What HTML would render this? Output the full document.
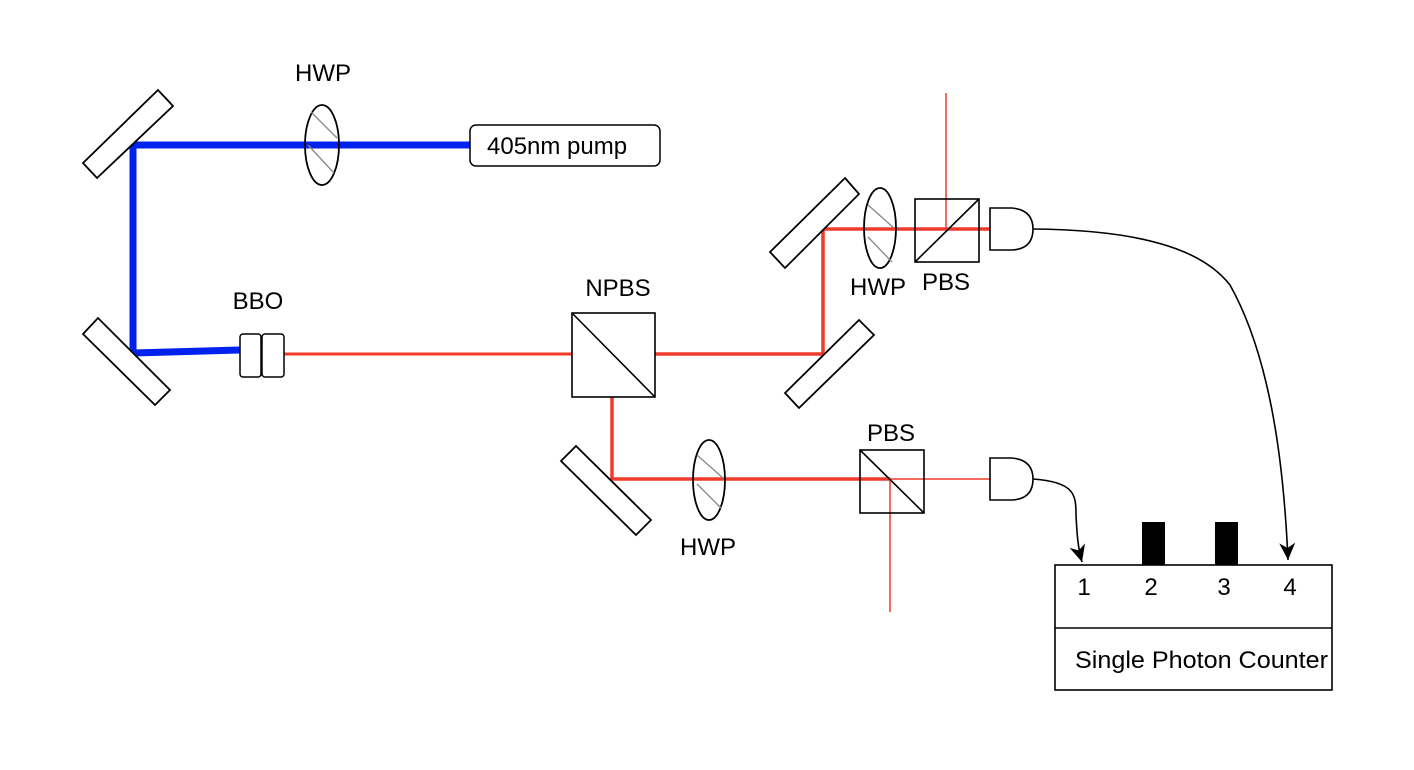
<!DOCTYPE html>
<html><head><meta charset="utf-8"><style>
html,body{margin:0;padding:0;background:#fff;}
svg{display:block;}
text{font-family:"Liberation Sans",Arial,sans-serif;font-size:24px;fill:#000;}
</style></head><body>
<svg width="1414" height="770" viewBox="0 0 1414 770" xmlns="http://www.w3.org/2000/svg">
<defs>
<marker id="ah" markerWidth="20" markerHeight="20" refX="17" refY="8" orient="auto" markerUnits="userSpaceOnUse">
<path d="M0,0 L17,8 L0,16 L5,8 Z" fill="#000"/>
</marker>
</defs>
<line x1="946" y1="93" x2="946" y2="229" stroke="#f03a2a" stroke-width="1.5"/>
<line x1="890" y1="479" x2="990" y2="479" stroke="#f03a2a" stroke-width="1.5"/>
<line x1="890" y1="479" x2="890" y2="612" stroke="#f03a2a" stroke-width="1.5"/>
<polyline points="470,145 133,145 133,353 240,350" fill="none" stroke="#0022ee" stroke-width="7"/>
<line x1="284" y1="354" x2="572" y2="354" stroke="#f03a2a" stroke-width="3"/>
<polyline points="655,354 823,354 823,229 990,229" fill="none" stroke="#f03a2a" stroke-width="3.5"/>
<polyline points="612,397 612,479 890,479" fill="none" stroke="#f03a2a" stroke-width="3.5"/>
<g fill="#fff" stroke="#000" stroke-width="1.8">
<polygon points="158,90 173,106 97,178 83,163"/>
<polygon points="83,334 98,318 170,390 155,405"/>
<polygon points="845,178 859,194 785,268 770,252"/>
<polygon points="859,320 874,335 799,408 785,393"/>
<polygon points="576,446 561,461 636,535 651,520"/>
</g>
<g>
<ellipse cx="322" cy="145" rx="17" ry="40" fill="none" stroke="#000" stroke-width="1.8"/>
<line x1="311" y1="112" x2="337" y2="138" stroke="#888" stroke-width="1.3"/>
<line x1="308" y1="145" x2="334" y2="173" stroke="#888" stroke-width="1.3"/>
<ellipse cx="880" cy="228" rx="16" ry="40" fill="none" stroke="#000" stroke-width="1.8"/>
<line x1="868" y1="205" x2="894" y2="228" stroke="#888" stroke-width="1.3"/>
<line x1="868" y1="237" x2="892" y2="262" stroke="#888" stroke-width="1.3"/>
<ellipse cx="709" cy="480" rx="16" ry="40" fill="none" stroke="#000" stroke-width="1.8"/>
<line x1="697" y1="455" x2="723" y2="478" stroke="#888" stroke-width="1.3"/>
<line x1="697" y1="484" x2="721" y2="508" stroke="#888" stroke-width="1.3"/>
</g>
<rect x="240" y="334" width="21" height="43" rx="3" fill="#fff" stroke="#000" stroke-width="1.5"/>
<rect x="262" y="334" width="22" height="43" rx="3" fill="#fff" stroke="#000" stroke-width="1.5"/>
<rect x="470" y="125" width="190" height="41" rx="6" fill="#fff" stroke="#000" stroke-width="1.5"/>
<text x="487" y="154">405nm pump</text>
<rect x="572" y="313" width="83" height="84" fill="none" stroke="#000" stroke-width="1.6"/>
<line x1="572" y1="313" x2="655" y2="397" stroke="#000" stroke-width="1.6"/>
<rect x="915" y="199" width="64" height="63" fill="none" stroke="#000" stroke-width="1.6"/>
<line x1="915" y1="262" x2="979" y2="199" stroke="#000" stroke-width="1.6"/>
<rect x="860" y="450" width="64" height="63" fill="none" stroke="#000" stroke-width="1.6"/>
<line x1="860" y1="450" x2="924" y2="513" stroke="#000" stroke-width="1.6"/>
<path d="M990,208 L1012,208 Q1033,210 1033,229 Q1033,249 1012,250 L990,250 Z" fill="#fff" stroke="#000" stroke-width="1.6"/>
<path d="M990,458 L1012,458 Q1033,460 1033,479 Q1033,499 1012,500 L990,500 Z" fill="#fff" stroke="#000" stroke-width="1.6"/>
<path d="M1033,229 C1170,230 1212,262 1230,285 C1272,360 1284,470 1288,560" fill="none" stroke="#000" stroke-width="1.6" marker-end="url(#ah)"/>
<path d="M1033,479 C1075,482 1076,495 1076,515 C1077,535 1078,548 1082,562" fill="none" stroke="#000" stroke-width="1.6" marker-end="url(#ah)"/>
<rect x="1142" y="522" width="23" height="43" fill="#000"/>
<rect x="1215" y="522" width="23" height="43" fill="#000"/>
<rect x="1055" y="565" width="277" height="125" fill="#fff" stroke="#000" stroke-width="1.6"/>
<line x1="1055" y1="628" x2="1332" y2="628" stroke="#000" stroke-width="1.6"/>
<text x="1084" y="595" text-anchor="middle">1</text>
<text x="1151" y="595" text-anchor="middle">2</text>
<text x="1224" y="595" text-anchor="middle">3</text>
<text x="1290" y="595" text-anchor="middle">4</text>
<text x="1075" y="668" textLength="253" lengthAdjust="spacingAndGlyphs">Single Photon Counter</text>
<text x="323" y="81" text-anchor="middle">HWP</text>
<text x="258" y="309" text-anchor="middle">BBO</text>
<text x="618" y="296" text-anchor="middle">NPBS</text>
<text x="878" y="295" text-anchor="middle">HWP</text>
<text x="946" y="290" text-anchor="middle">PBS</text>
<text x="891" y="441" text-anchor="middle">PBS</text>
<text x="708" y="555" text-anchor="middle">HWP</text>
</svg>
</body></html>
